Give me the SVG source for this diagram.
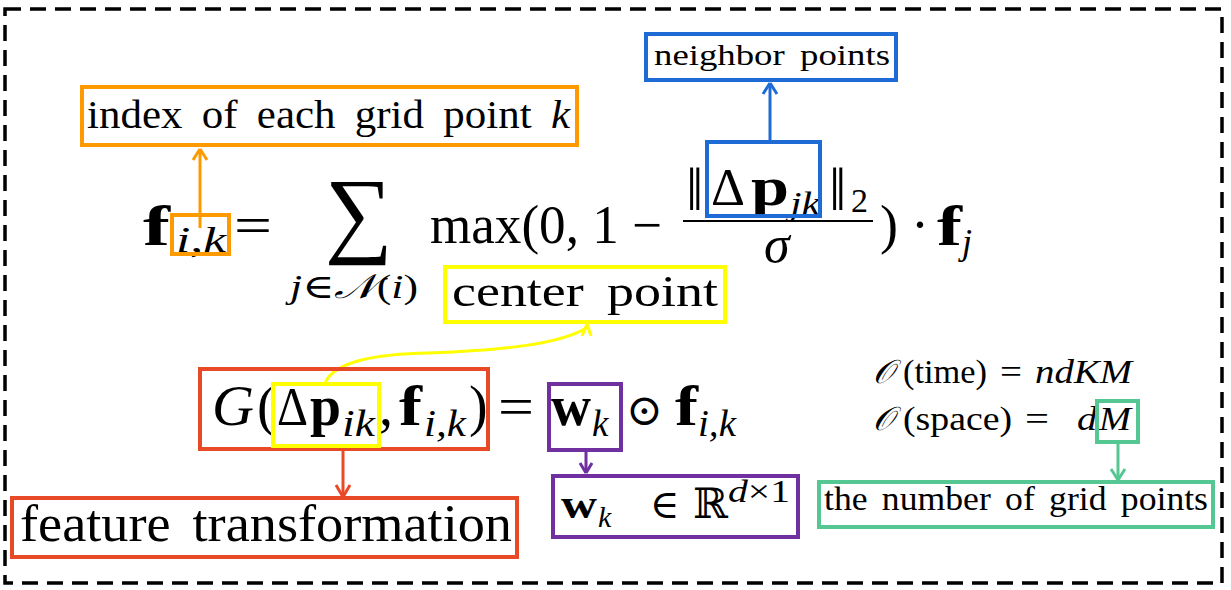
<svg xmlns="http://www.w3.org/2000/svg" width="1231" height="590" viewBox="0 0 1231 590">
<defs>
<style>
.t{font-family:"Liberation Serif","DejaVu Serif",serif;fill:#000}
.it{font-style:italic}
.bf{font-weight:bold}
.box{fill:none;stroke-width:4}
.ln{fill:none;stroke-width:3}
</style>
</defs>
<rect width="1231" height="590" fill="#fff"/>
<rect x="5" y="9" width="1217" height="574" fill="none" stroke="#000" stroke-width="3.5" stroke-dasharray="16 9"/>

<g id="connectors">
<line x1="200" y1="228" x2="200" y2="149" class="ln" stroke="#FF9900"/>
<path d="M200,149 l-7,11 M200,149 l7,11" class="ln" stroke="#FF9900"/>
<line x1="770" y1="142" x2="770" y2="83" class="ln" stroke="#1F6BD6"/>
<path d="M770,83 l-7,11 M770,83 l7,11" class="ln" stroke="#1F6BD6"/>
<path d="M325,383 C335,360 380,354 429,353 C500,350 560,345 588,327" class="ln" stroke="#FFFF00"/>
<path d="M587,324 l-5,12 M587,324 l4,12" class="ln" stroke="#FFFF00"/>
<line x1="343" y1="450" x2="343" y2="497" class="ln" stroke="#E84A27"/>
<path d="M343,497 l-7,-12 M343,497 l7,-12" class="ln" stroke="#E84A27"/>
<line x1="586" y1="450" x2="586" y2="473" class="ln" stroke="#7030A0"/>
<path d="M586,473 l-6,-10 M586,473 l6,-10" class="ln" stroke="#7030A0"/>
<line x1="1118" y1="442" x2="1118" y2="480" class="ln" stroke="#55C793"/>
<path d="M1118,480 l-7,-11 M1118,480 l7,-11" class="ln" stroke="#55C793"/>
</g>

<g id="formula1">
<text class="t bf" x="143" y="245" font-size="58" textLength="27" lengthAdjust="spacingAndGlyphs">f</text>
<text class="t it" x="176" y="252" font-size="36" textLength="50" lengthAdjust="spacingAndGlyphs">i,k</text>
<text class="t" x="234" y="243" font-size="52" textLength="38" lengthAdjust="spacingAndGlyphs">=</text>
<text class="t" x="325" y="245" font-size="96" textLength="68" lengthAdjust="spacingAndGlyphs">∑</text>
<text class="t it" x="290" y="298" font-size="34" textLength="128" lengthAdjust="spacingAndGlyphs">j<tspan font-style="normal">∈</tspan>𝒩<tspan font-style="normal">(</tspan>i<tspan font-style="normal">)</tspan></text>
<text class="t" x="430" y="243" font-size="54" textLength="232" lengthAdjust="spacingAndGlyphs">max(0, 1 −</text>
<text class="t" x="686" y="210" font-size="62">‖</text>
<text class="t" x="711" y="205" font-size="52" textLength="34" lengthAdjust="spacingAndGlyphs">Δ</text>
<text class="t bf" x="751" y="205" font-size="54" textLength="38" lengthAdjust="spacingAndGlyphs">p</text>
<text class="t it" x="790" y="215" font-size="34" textLength="30" lengthAdjust="spacingAndGlyphs">jk</text>
<text class="t" x="829" y="210" font-size="62">‖</text>
<text class="t" x="851" y="212" font-size="34">2</text>
<line x1="683" y1="221" x2="873" y2="221" stroke="#000" stroke-width="2"/>
<text class="t it" x="764" y="262" font-size="52">σ</text>
<text class="t" x="880" y="243" font-size="54">)</text>
<text class="t" x="911" y="243" font-size="54">·</text>
<text class="t bf" x="937" y="245" font-size="58" textLength="25" lengthAdjust="spacingAndGlyphs">f</text>
<text class="t it" x="962" y="254" font-size="36">j</text>
</g>

<g id="node-index">
<rect x="82" y="87" width="495" height="58" class="box" stroke="#FF9900"/>
<text class="t" x="87" y="128" font-size="40" word-spacing="8" textLength="483" lengthAdjust="spacingAndGlyphs">index of each grid point <tspan class="it">k</tspan></text>
</g>
<g id="node-ik">
<rect x="172" y="215" width="57" height="39" class="box" stroke="#FF9900"/>
</g>
<g id="node-neighbor">
<rect x="646" y="34" width="250" height="46" class="box" stroke="#1F6BD6"/>
<text class="t" x="654" y="65" font-size="30" word-spacing="5" textLength="236" lengthAdjust="spacingAndGlyphs">neighbor points</text>
</g>
<g id="node-dpjk">
<rect x="707" y="142" width="113" height="74" class="box" stroke="#1F6BD6"/>
</g>
<g id="node-center">
<rect x="445" y="267" width="280" height="55" class="box" stroke="#FFFF00"/>
<text class="t" x="452" y="306" font-size="44" word-spacing="8" textLength="266" lengthAdjust="spacingAndGlyphs">center point</text>
</g>

<g id="formula2">
<text class="t it" x="212" y="425" font-size="56" textLength="42" lengthAdjust="spacingAndGlyphs">G</text>
<text class="t" x="257" y="425" font-size="56">(</text>
<text class="t" x="277" y="425" font-size="54" textLength="31" lengthAdjust="spacingAndGlyphs">Δ</text>
<text class="t bf" x="310" y="425" font-size="56" textLength="31" lengthAdjust="spacingAndGlyphs">p</text>
<text class="t it" x="342" y="436" font-size="37" textLength="33" lengthAdjust="spacingAndGlyphs">ik</text>
<text class="t" x="379" y="425" font-size="56">,</text>
<text class="t bf" x="399" y="425" font-size="56" textLength="23" lengthAdjust="spacingAndGlyphs">f</text>
<text class="t it" x="424" y="436" font-size="37" textLength="42" lengthAdjust="spacingAndGlyphs">i,k</text>
<text class="t" x="469" y="425" font-size="56">)</text>
<text class="t" x="498" y="425" font-size="54" textLength="36" lengthAdjust="spacingAndGlyphs">=</text>
<text class="t bf" x="551" y="425" font-size="56" textLength="40" lengthAdjust="spacingAndGlyphs">w</text>
<text class="t it" x="592" y="436" font-size="37">k</text>
<text class="t" x="626" y="425" font-size="44">⊙</text>
<text class="t bf" x="675" y="425" font-size="56" textLength="23" lengthAdjust="spacingAndGlyphs">f</text>
<text class="t it" x="698" y="436" font-size="37" textLength="38" lengthAdjust="spacingAndGlyphs">i,k</text>
</g>
<g id="node-G">
<rect x="200" y="369" width="288" height="80" class="box" stroke="#E84A27"/>
</g>
<g id="node-dpik">
<rect x="273" y="384" width="106" height="62" class="box" stroke="#FFFF00"/>
</g>
<g id="node-wk">
<rect x="549" y="384" width="72" height="66" class="box" stroke="#7030A0"/>
</g>
<g id="node-feature">
<rect x="12" y="498" width="505" height="59" class="box" stroke="#E84A27"/>
<text class="t" x="20" y="541" font-size="52" word-spacing="8" textLength="492" lengthAdjust="spacingAndGlyphs">feature transformation</text>
</g>
<g id="node-wkR">
<rect x="553" y="476" width="245" height="61" class="box" stroke="#7030A0"/>
<text class="t bf" x="561" y="518" font-size="42" textLength="36" lengthAdjust="spacingAndGlyphs">w</text>
<text class="t it" x="598" y="527" font-size="30">k</text>
<text class="t" x="650" y="518" font-size="40">∈</text>
<text class="t" x="693" y="518" font-size="42">ℝ</text>
<text class="t it" x="728" y="502" font-size="32" textLength="62" lengthAdjust="spacingAndGlyphs">d<tspan font-style="normal">×1</tspan></text>
</g>

<g id="complexity">
<text class="t it" x="873" y="383" font-size="33">𝒪</text>
<text class="t" x="903" y="383" font-size="33" textLength="84" lengthAdjust="spacingAndGlyphs">(time)</text>
<text class="t" x="1000" y="383" font-size="33" textLength="22" lengthAdjust="spacingAndGlyphs">=</text>
<text class="t it" x="1035" y="383" font-size="33" textLength="97" lengthAdjust="spacingAndGlyphs">ndKM</text>
<text class="t it" x="873" y="430" font-size="33">𝒪</text>
<text class="t" x="903" y="430" font-size="33" textLength="109" lengthAdjust="spacingAndGlyphs">(space)</text>
<text class="t" x="1025" y="430" font-size="33" textLength="24" lengthAdjust="spacingAndGlyphs">=</text>
<text class="t it" x="1077" y="430" font-size="33" textLength="20" lengthAdjust="spacingAndGlyphs">d</text>
<text class="t it" x="1099" y="430" font-size="33" textLength="32" lengthAdjust="spacingAndGlyphs">M</text>
</g>
<g id="node-M">
<rect x="1097" y="401" width="41" height="41" class="box" stroke="#55C793"/>
</g>
<g id="node-grid">
<rect x="819" y="482" width="394" height="45" class="box" stroke="#55C793"/>
<text class="t" x="824" y="510" font-size="33" word-spacing="5" textLength="384" lengthAdjust="spacingAndGlyphs">the number of grid points</text>
</g>
</svg>
